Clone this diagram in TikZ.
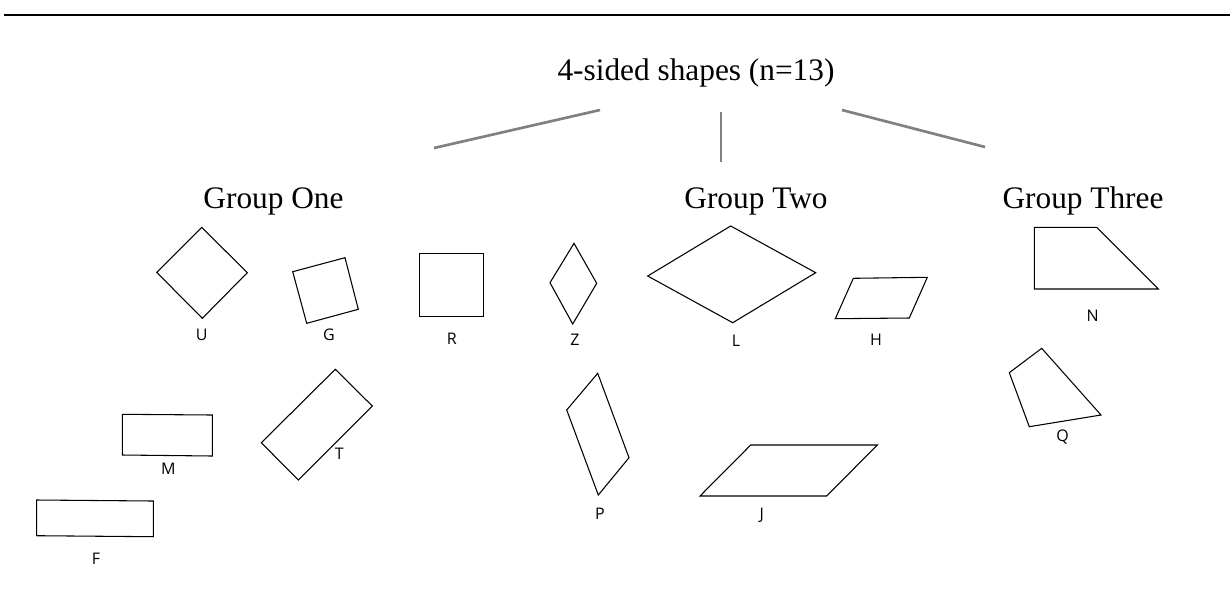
\documentclass[tikz,border=0pt]{standalone}
\usepackage{fontspec}
\setmainfont{Liberation Serif}
\newfontfamily\lblfont{Open Sans}
\begin{document}
\begin{tikzpicture}[x=0.75pt,y=-0.75pt,
  shp/.style={draw=black,line width=0.8pt,line join=miter},
  conn/.style={draw=black!50,line width=2pt},
  lbl/.style={font=\lblfont\fontsize{12}{14}\selectfont,inner sep=0pt},
  grp/.style={font=\fontsize{23.5}{28}\selectfont,inner sep=0pt,anchor=base}]
\useasboundingbox (0,0) rectangle (1230,615);
\draw[line width=1.6pt] (4,15) -- (1230,15);
% title and groups
\node[grp] (title) at (696,80) {4-sided shapes (n=13)};
\node[grp] (g1) at (273.5,208) {Group One};
\node[grp] (g2) at (756,208) {Group Two};
\node[grp] (g3) at (1083,208) {Group Three};
% connectors
\coordinate (c1a) at (600,110); \coordinate (c1b) at (434,148);
\coordinate (c2a) at (721,112); \coordinate (c2b) at (721,162);
\coordinate (c3a) at (842,110); \coordinate (c3b) at (985,147);
\draw[conn] (c1a) -- (c1b);
\draw[conn] (c2a) -- (c2b);
\draw[conn] (c3a) -- (c3b);
% shapes
\draw[shp] (201.7,227.3) -- (247.3,272.7) -- (202.3,318.3) -- (156.7,272.3) -- cycle;
\node[lbl] (U) at (201.7,335) {U};
\draw[shp] (292.7,271.7) -- (345,257.7) -- (358.3,309.3) -- (306.7,323.3) -- cycle;
\node[lbl] (G) at (329,335) {G};
\draw[shp] (419.3,253.3) -- (483.3,253.3) -- (483.3,316.7) -- (419.3,316.7) -- cycle;
\node[lbl] (R) at (451.7,338.3) {R};
\draw[shp] (574,243.3) -- (596.7,283.3) -- (572.7,324) -- (550,282.7) -- cycle;
\node[lbl] (Z) at (575,339.3) {Z};
\draw[shp] (730.7,226) -- (815.7,272.7) -- (732.7,322.7) -- (647.7,276) -- cycle;
\node[lbl] (L) at (736,340.7) {L};
\draw[shp] (853.3,278.3) -- (927.3,277.3) -- (909.3,318) -- (835.3,318.7) -- cycle;
\node[lbl] (H) at (876,339.3) {H};
\draw[shp] (1034.3,227.3) -- (1096.7,227.3) -- (1158.3,289) -- (1034.3,289) -- cycle;
\node[lbl] (N) at (1092.7,316) {N};
\draw[shp] (1041.7,348.3) -- (1101,415) -- (1029.3,426.7) -- (1009.3,372.7) -- cycle;
\node[lbl] (Q) at (1062.7,437.3) {Q};
\draw[shp] (122.3,414.3) -- (212.3,415) -- (212.3,456) -- (122.3,455) -- cycle;
\node[lbl] (M) at (168.3,468.3) {M};
\draw[shp] (335.3,369.3) -- (372.3,406) -- (298.3,480) -- (261.3,442.7) -- cycle;
\node[lbl] (T) at (339.3,453.3) {T};
\draw[shp] (36.7,500) -- (153.3,501) -- (153.3,536.7) -- (36.7,535.7) -- cycle;
\node[lbl] (F) at (96,558.3) {F};
\draw[shp] (597.7,373.3) -- (629,457.7) -- (598.3,495) -- (566.7,410) -- cycle;
\node[lbl] (P) at (600,514) {P};
\draw[shp] (750.7,445) -- (877.3,445) -- (826.7,496) -- (700,496) -- cycle;
\node[lbl] (J) at (761.7,515) {J};
\end{tikzpicture}
\end{document}
